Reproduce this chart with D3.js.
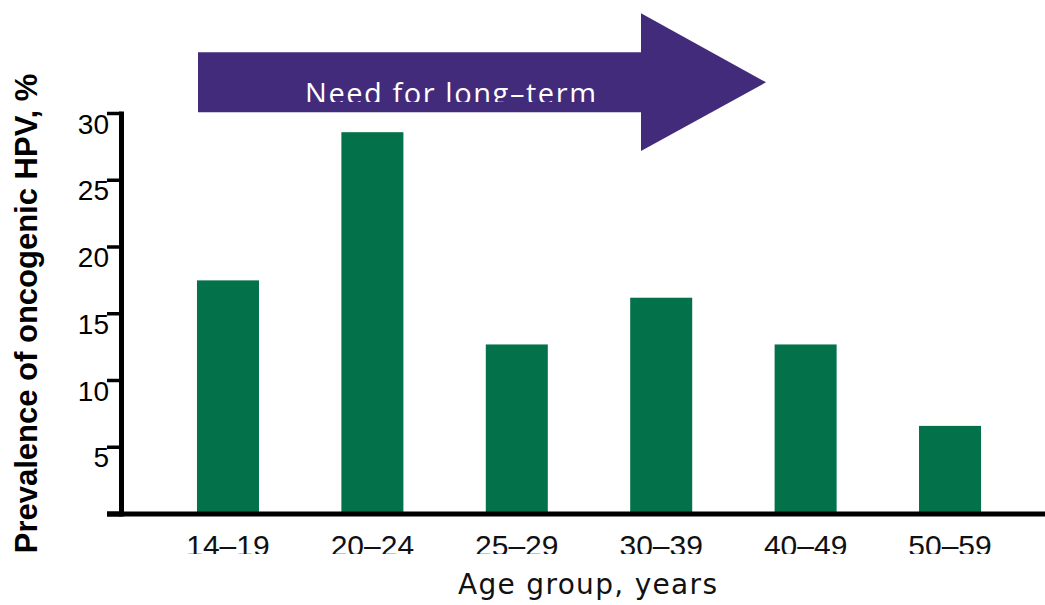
<!DOCTYPE html>
<html>
<head>
<meta charset="utf-8">
<script src="https://cdn.jsdelivr.net/npm/d3@7"></script>
<style>
  html, body { margin: 0; padding: 0; background: #ffffff; }
  svg { display: block; }
</style>
</head>
<body>
<svg id="chart" width="1045" height="605"></svg>
<script>
// ---- Data ----
const categories = ["14\u201319", "20\u201324", "25\u201329", "30\u201339", "40\u201349", "50\u201359"];
const prevalence = [17.5, 28.6, 12.7, 16.2, 12.7, 6.6];
const yTicks = [5, 10, 15, 20, 25, 30];
const yTickLabels = ["5", "10", "15", "20", "25", "30"];
const xTitle = "Age group, years";
const yTitle = "Prevalence of oncogenic HPV, %";
const arrowText = "Need for long\u2013term";

// ---- Layout ----
const W = 1045, H = 605;
const baseY = 514, topY = 113.5;
const axisX = 121.5;
const purple = "#432b7b";
const green = "#03714a";

const svg = d3.select("#chart");

const x = d3.scaleBand()
  .domain(categories)
  .range([160, 1018])
  .paddingInner(0.5706)
  .paddingOuter(0.256);

const y = d3.scaleLinear().domain([0, 30]).range([baseY, topY]);

// Clip paths
const defs = svg.append("defs");
defs.append("clipPath").attr("id", "arrowClip")
  .append("rect").attr("x", 0).attr("y", 0).attr("width", W).attr("height", 102);
defs.append("clipPath").attr("id", "xlabClip")
  .append("rect").attr("x", 0).attr("y", 0).attr("width", W).attr("height", 554);

// Arrow annotation
const arrowPts = [[198, 52.3], [641, 52.3], [641, 13.3], [766, 82.3], [641, 151], [641, 112.3], [198, 112.3]];
svg.append("path")
  .attr("d", d3.line()(arrowPts) + "Z")
  .attr("fill", purple);

svg.append("text")
  .attr("x", 305).attr("y", 103.5)
  .attr("clip-path", "url(#arrowClip)")
  .attr("font-family", "'Open Sans', 'DejaVu Sans', sans-serif")
  .attr("font-size", 29)
  .attr("fill", "#ffffff")
  .attr("textLength", 291)
  .attr("lengthAdjust", "spacing")
  .text(arrowText);

// Bars
svg.append("g").selectAll("rect")
  .data(categories)
  .join("rect")
  .attr("x", d => x(d))
  .attr("width", x.bandwidth())
  .attr("y", (d, i) => y(prevalence[i]))
  .attr("height", (d, i) => baseY - y(prevalence[i]))
  .attr("fill", green);

// Y axis
const yAxis = svg.append("g");
yAxis.append("line")
  .attr("x1", axisX).attr("x2", axisX)
  .attr("y1", y(30) - 2).attr("y2", baseY + 2.5)
  .attr("stroke", "#000").attr("stroke-width", 5);
yAxis.selectAll("line.tick")
  .data([0].concat(yTicks))
  .join("line")
  .attr("class", "tick")
  .attr("x1", 107).attr("x2", axisX)
  .attr("y1", d => y(d)).attr("y2", d => y(d))
  .attr("stroke", "#000").attr("stroke-width", d => d === 0 ? 5 : 3.5);
yAxis.selectAll("text")
  .data(yTicks)
  .join("text")
  .attr("x", 109)
  .attr("y", d => y(d) + 20)
  .attr("text-anchor", "end")
  .attr("font-family", "'Liberation Sans', Arial, sans-serif")
  .attr("font-size", 28)
  .attr("fill", "#000")
  .text((d, i) => yTickLabels[i]);

// X axis baseline
svg.append("line")
  .attr("x1", 107).attr("x2", W)
  .attr("y1", baseY).attr("y2", baseY)
  .attr("stroke", "#000").attr("stroke-width", 5);

// X labels
svg.append("g").attr("clip-path", "url(#xlabClip)")
  .selectAll("text")
  .data(categories)
  .join("text")
  .attr("x", d => x(d) + x.bandwidth() / 2)
  .attr("y", 556)
  .attr("text-anchor", "middle")
  .attr("font-family", "'Liberation Sans', Arial, sans-serif")
  .attr("font-size", 30)
  .attr("fill", "#111")
  .text(d => d);

// X title
svg.append("text")
  .attr("x", 458).attr("y", 594)
  .attr("font-family", "'DejaVu Sans', sans-serif")
  .attr("font-size", 28)
  .attr("fill", "#111")
  .attr("textLength", 259)
  .attr("lengthAdjust", "spacing")
  .text(xTitle);

// Y title
svg.append("text")
  .attr("transform", "translate(37,313.5) rotate(-90)")
  .attr("text-anchor", "middle")
  .attr("font-family", "'Liberation Sans', Arial, sans-serif")
  .attr("font-weight", "bold")
  .attr("font-size", 31)
  .attr("fill", "#000")
  .text(yTitle);
</script>
</body>
</html>
